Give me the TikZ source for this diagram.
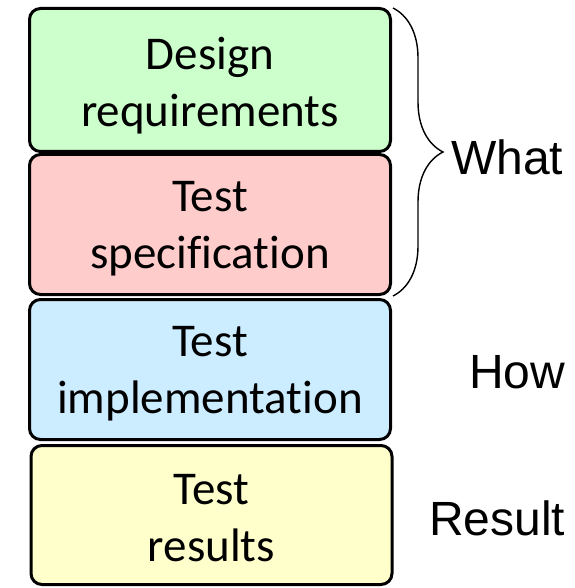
\documentclass[tikz,border=0pt]{standalone}
\usepackage{fontspec}
\setmainfont{Carlito}[RawFeature={-liga;-clig;-dlig}]
\newfontfamily\labelfont{Liberation Sans}
\usetikzlibrary{decorations.pathreplacing}
\definecolor{reqgreen}{HTML}{CCFFCC}
\definecolor{specpink}{HTML}{FFCCCC}
\definecolor{implblue}{HTML}{CCECFF}
\definecolor{resyellow}{HTML}{FFFFCC}
\begin{document}
\begin{tikzpicture}[x=1pt,y=1pt,
  stage/.style={draw=black, line width=3pt, rounded corners=11pt,
    minimum width=361pt, inner sep=0pt},
  stagetext/.style={align=center, inner sep=0pt,
    font=\fontsize{47}{57}\selectfont},
  side/.style={anchor=base west, inner sep=0pt,
    font=\labelfont\fontsize{48}{56}\selectfont}]
  \useasboundingbox (0,0) rectangle (574,-588);
  % stacked stages of the test flow
  \node[stage, fill=reqgreen,  minimum height=143pt] (req)  at (210,-80)    {};
  \node[stage, fill=specpink,  minimum height=140pt] (spec) at (210,-224.5) {};
  \node[stage, fill=implblue,  minimum height=140pt] (impl) at (210,-369.5) {};
  \node[stage, fill=resyellow, minimum height=139pt] (res)  at (211.5,-515) {};
  \node[stagetext] (reqtxt)  at ([yshift=-6pt]req.center)  {Design\\requirements};
  \node[stagetext] (spectxt) at ([yshift=-4pt]spec.center) {Test\\specification};
  \node[stagetext] (impltxt) at ([yshift=-4pt]impl.center) {Test\\implementation};
  \node[stagetext] (restxt)  at ([yshift=-3pt]res.center)  {Test\\results};
  % brace grouping the first two stages
  \coordinate (brtop) at (393,-8);
  \coordinate (brbot) at (393,-296);
  \draw[line width=1.4pt, decorate,
        decoration={brace, amplitude=50pt, aspect=0.5}] (brtop) -- (brbot);
  % side labels
  \node[side] (what) at (451,-175) {What};
  \node[side] (how)  at (469,-388) {How};
  \node[side] (result) at (429,-535) {Result};
\end{tikzpicture}
\end{document}
